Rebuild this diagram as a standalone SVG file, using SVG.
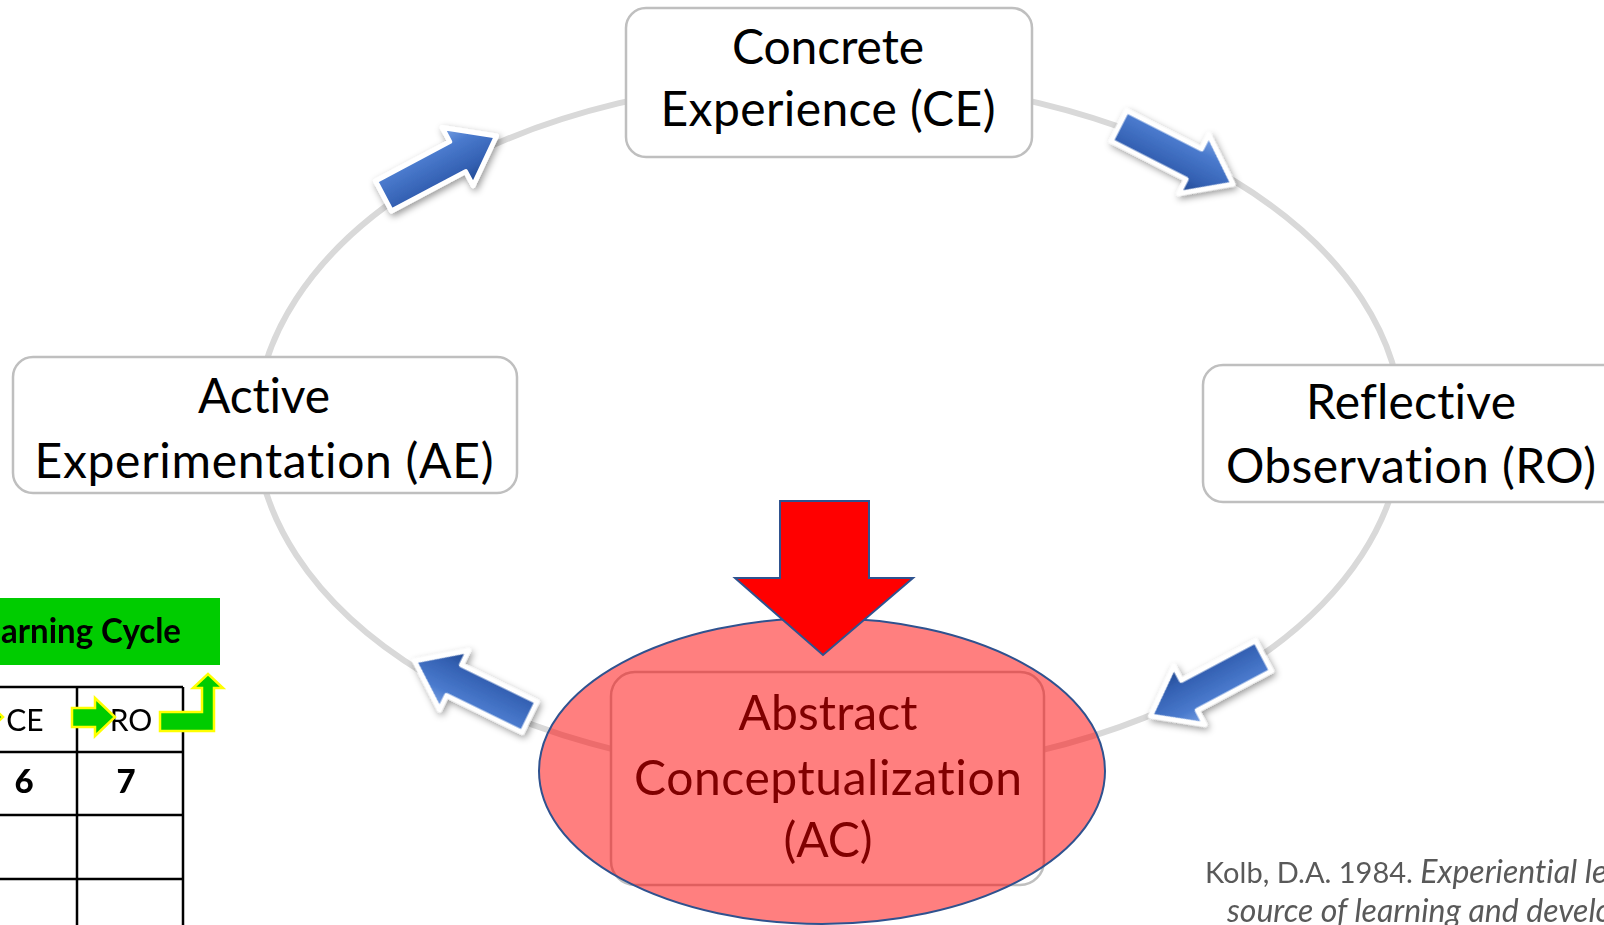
<svg xmlns="http://www.w3.org/2000/svg" width="1604" height="925" viewBox="0 0 1604 925">
<style>
text{font-variant-ligatures:none;font-feature-settings:"liga" 0,"clig" 0}
.box{fill:#fff;stroke:#BFBFBF;stroke-width:2.5}
.lbl{font-family:Lato,"Open Sans","Liberation Sans",sans-serif;font-size:48px;fill:#000;text-anchor:middle}
.barrow{fill:url(#bg);stroke:#fff;stroke-width:5;stroke-linejoin:round}
.tbl{stroke:#000;stroke-width:2.5;fill:none}
.tt{font-family:Lato,"Liberation Sans",sans-serif;font-size:30px;fill:#000;text-anchor:middle}
.tb{font-family:Lato,"Liberation Sans",sans-serif;font-size:33px;font-weight:900;fill:#000;text-anchor:middle}
.garrow{fill:#00CC00;stroke:#FFFF00;stroke-width:2.5}
.cite{font-family:Lato,"Liberation Sans",sans-serif;font-size:29px;fill:#595959}
.it{font-style:italic;font-size:32px}
</style>
<defs>
<linearGradient id="bg" x1="0" y1="0" x2="0" y2="1">
<stop offset="0" stop-color="#7BA3E4"/>
<stop offset="0.3" stop-color="#4A7ACD"/>
<stop offset="0.7" stop-color="#3461B3"/>
<stop offset="1" stop-color="#1F468E"/>
</linearGradient>
<path id="bshape" d="M-64,-17 L20,-17 L20,-33 L64,0 L20,33 L20,17 L-64,17 Z"/>
<filter id="sh" x="-10%" y="-10%" width="120%" height="120%">
<feDropShadow dx="2" dy="3" stdDeviation="3.5" flood-color="#000" flood-opacity="0.4"/>
</filter>
</defs>
<rect width="1604" height="925" fill="#fff"/>

<g id="connectors">
<ellipse cx="829" cy="427" rx="573" ry="348" fill="none" stroke="#D9D9D9" stroke-width="6"/>
</g>

<g id="node-ce">
<rect class="box" x="626" y="8" width="406" height="149" rx="20"/>
<text class="lbl" x="828" y="64" textLength="192">Concrete</text>
<text class="lbl" x="828" y="126" textLength="335">Experience (CE)</text>
</g>

<g id="node-ae">
<rect class="box" x="13" y="357" width="504" height="136" rx="20"/>
<text class="lbl" x="264" y="413" textLength="132">Active</text>
<text class="lbl" x="264" y="478" textLength="459">Experimentation (AE)</text>
</g>

<g id="node-ro">
<rect class="box" x="1203" y="365" width="420" height="137" rx="20"/>
<text class="lbl" x="1411" y="419" textLength="210">Reflective</text>
<text class="lbl" x="1411" y="483" textLength="370">Observation (RO)</text>
</g>

<g id="cycle-arrows" filter="url(#sh)">
<use href="#bshape" class="barrow" transform="translate(440,166) rotate(-28)"/>
<use href="#bshape" class="barrow" transform="translate(1176,155) rotate(27)"/>
<use href="#bshape" class="barrow" transform="translate(1207,686) rotate(152)"/>
<use href="#bshape" class="barrow" transform="translate(472,689) rotate(206)"/>
</g>

<g id="node-ac">
<rect class="box" x="611" y="672" width="433" height="213" rx="24"/>
<text class="lbl" x="828" y="730" textLength="179">Abstract</text>
<text class="lbl" x="828" y="795" textLength="388">Conceptualization</text>
<text class="lbl" x="828" y="857" textLength="89">(AC)</text>
<ellipse cx="822" cy="771" rx="283" ry="153" fill="#FF0000" fill-opacity="0.5" stroke="#2F528F" stroke-width="2"/>
</g>

<g id="red-arrow">
<path d="M780,501 L869,501 L869,578 L913,578 L823,655 L735,578 L780,578 Z" fill="#FF0000" stroke="#2F528F" stroke-width="2" stroke-linejoin="miter"/>
</g>

<g id="table">
<rect x="0" y="598" width="220" height="67" fill="#00CC00"/>
<text x="1" y="643" textLength="180" lengthAdjust="spacingAndGlyphs" font-family="Lato,'Liberation Sans',sans-serif" font-size="35" font-weight="bold" fill="#000">arning Cycle</text>
<path class="tbl" d="M0,687 H183 M0,752 H183 M0,815 H183 M0,879 H183 M77,687 V925 M183,687 V925"/>
<text class="tt" x="25" y="731">CE</text>
<text class="tt" x="131" y="731">RO</text>
<text class="tb" x="24" y="793">6</text>
<text class="tb" x="126" y="793">7</text>
<path class="garrow" d="M-40,708 L-17,708 L-17,698 L3,717 L-17,736 L-17,727 L-40,727 Z"/>
<path class="garrow" d="M72,708 L95,708 L95,698 L115,717 L95,736 L95,727 L72,727 Z"/>
<path class="garrow" d="M160,712 L202,712 L202,688 L193,688 L208,674 L223,688 L214,688 L214,731 L160,731 Z"/>
</g>

<g id="citation">
<text class="cite" x="1205" y="883">Kolb, D.A. 1984. <tspan class="it">Experiential lea</tspan></text>
<text class="cite it" x="1227" y="922">source of learning and develo</text>
</g>
</svg>
